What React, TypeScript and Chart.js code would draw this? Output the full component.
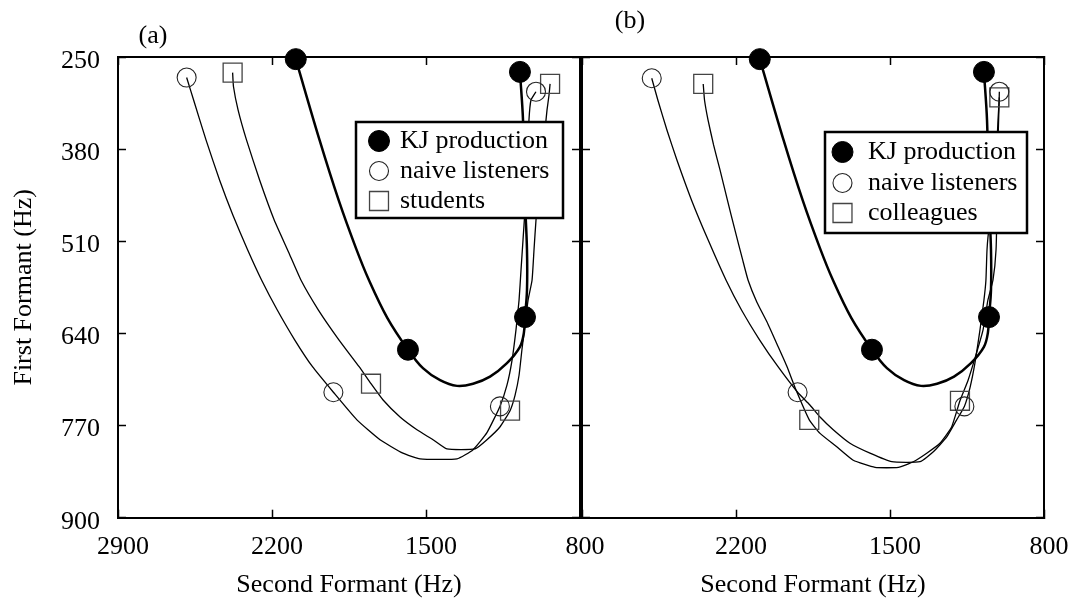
import React, { useEffect, useRef } from 'react';
import { Chart, registerables } from 'chart.js';

Chart.register(...registerables);

const FONT = '"Liberation Serif", "Times New Roman", Times, serif';

// Axis ticks and labels
const F2_TICKS = [800, 1500, 2200, 2900];
const F2_LABELS_A = ['800', '1500', '2200', '2900'];
const F2_LABELS_B = ['800', '1500', '2200', ''];
const F1_TICKS = [250, 380, 510, 640, 770, 900];
const F1_LABELS = ['250', '380', '510', '640', '770', '900'];

// KJ production (same in both panels)
const KJ_MARK_F2 = [2092, 1582, 1050, 1073];
const KJ_MARK_F1 = [253, 663, 617, 271];
const KJ_CURVE_F2 = [2092, 1984, 1897, 1818, 1759, 1676, 1582, 1514, 1436, 1359, 1286, 1209, 1132, 1073, 1055, 1050, 1041, 1041, 1050, 1059, 1073];
const KJ_CURVE_F1 = [253, 367, 452, 520, 565, 618, 663, 689, 706, 714, 711, 701, 682, 659, 639, 617, 579, 522, 452, 339, 271];

// Panel (a) naive listeners
const NAIVE_A_MARK_F2 = [2588, 1921, 1164, 1000];
const NAIVE_A_MARK_F1 = [279, 723, 743, 299];
const NAIVE_A_F2 = [2588, 2556, 2500, 2438, 2378, 2311, 2247, 2176, 2097, 2016, 1921, 1814, 1709, 1605, 1527, 1359, 1286, 1223, 1164, 1132, 1109, 1091, 1077, 1068, 1059, 1050, 1041, 1036, 1032, 1023, 1000];
const NAIVE_A_F1 = [279, 311, 367, 424, 473, 522, 565, 607, 649, 687, 723, 762, 790, 809, 817, 817, 804, 780, 743, 713, 678, 635, 593, 550, 508, 466, 424, 381, 339, 311, 299];

// Panel (a) students
const STUD_MARK_F2 = [2379, 1750, 1118, 936];
const STUD_MARK_F1 = [272, 711, 749, 288];
const STUD_F2 = [2379, 2375, 2354, 2316, 2256, 2190, 2125, 2068, 1989, 1896, 1804, 1750, 1695, 1618, 1541, 1468, 1405, 1277, 1223, 1164, 1118, 1095, 1077, 1064, 1050, 1036, 1018, 1009, 1000, 986, 973, 959, 950, 941, 936];
const STUD_F1 = [272, 292, 325, 367, 424, 480, 525, 565, 607, 649, 687, 711, 734, 758, 776, 790, 803, 803, 790, 772, 749, 727, 699, 663, 628, 593, 565, 522, 480, 438, 395, 353, 325, 304, 288];

// Panel (b) naive listeners
const NAIVE_B_MARK_F2 = [2583, 1920, 1162, 1003];
const NAIVE_B_MARK_F1 = [280, 723, 743, 299];
const NAIVE_B_F2 = [2583, 2555, 2514, 2469, 2402, 2327, 2245, 2175, 2093, 2009, 1920, 1864, 1818, 1758, 1682, 1591, 1492, 1364, 1303, 1242, 1197, 1162, 1136, 1114, 1091, 1073, 1064, 1059, 1050, 1023, 1014, 1009, 1005, 1003];
const NAIVE_B_F1 = [280, 311, 353, 395, 452, 508, 565, 607, 649, 687, 723, 741, 758, 776, 795, 809, 821, 821, 807, 786, 762, 743, 716, 682, 635, 593, 565, 522, 494, 473, 424, 367, 325, 299];

// Panel (b) colleagues
const COLL_MARK_F2 = [2349, 1867, 1182, 1003];
const COLL_MARK_F1 = [288, 762, 735, 307];
const COLL_F2 = [2349, 2343, 2327, 2302, 2273, 2239, 2205, 2170, 2145, 2105, 2059, 2014, 1968, 1927, 1867, 1818, 1742, 1667, 1568, 1462, 1394, 1333, 1273, 1220, 1182, 1145, 1109, 1077, 1055, 1032, 1018, 1014, 1014, 1009, 1003];
const COLL_F1 = [288, 311, 339, 374, 409, 452, 494, 536, 565, 596, 624, 655, 687, 720, 762, 781, 800, 819, 829, 829, 821, 809, 795, 772, 735, 706, 670, 635, 593, 565, 522, 452, 381, 339, 307];

const zip = (xs: number[], ys: number[]) => xs.map((x, i) => ({ x, y: ys[i] }));

const TRANSPARENT = 'rgba(0,0,0,0)';

const decorPlugin = {
  id: 'decor',
  afterDraw(chart: any, _args: any, opts: any) {
    const ctx = chart.ctx;
    ctx.save();
    if (opts.panelLabel) {
      ctx.font = `26px ${FONT}`;
      ctx.fillStyle = '#000';
      ctx.textAlign = 'center';
      ctx.textBaseline = 'middle';
      ctx.fillText(opts.panelLabel, opts.panelLabelX, opts.panelLabelY);
    }
    const lg = opts.legend;
    if (lg) {
      ctx.fillStyle = '#fff';
      ctx.fillRect(lg.left, lg.top, lg.width, lg.height);
      ctx.lineWidth = 2.5;
      ctx.strokeStyle = '#000';
      ctx.strokeRect(lg.left, lg.top, lg.width, lg.height);
      const items = chart.data.datasets.filter((d: any) => d.legendMarker);
      items.forEach((d: any, i: number) => {
        const y = lg.rows[i];
        const r = d.pointRadius;
        ctx.beginPath();
        if (d.pointStyle === 'rect') {
          const s = r * Math.SQRT1_2;
          ctx.rect(lg.symbolX - s, y - s, 2 * s, 2 * s);
        } else {
          ctx.arc(lg.symbolX, y, r, 0, Math.PI * 2);
        }
        if (d.backgroundColor !== TRANSPARENT) {
          ctx.fillStyle = d.backgroundColor;
          ctx.fill();
        }
        ctx.lineWidth = d.borderWidth;
        ctx.strokeStyle = d.borderColor;
        ctx.stroke();
        ctx.fillStyle = '#000';
        ctx.font = `26px ${FONT}`;
        ctx.textAlign = 'left';
        ctx.textBaseline = 'middle';
        ctx.fillText(d.label, lg.textX, y);
      });
    }
    ctx.restore();
  },
};

function markerSet(label: string, xs: number[], ys: number[], style: string) {
  const base: any = {
    label,
    data: zip(xs, ys),
    showLine: false,
    clip: false,
    legendMarker: true,
  };
  if (style === 'filled') {
    return { ...base, pointStyle: 'circle', pointRadius: 10.5, backgroundColor: '#000', borderColor: '#000', borderWidth: 1 };
  }
  if (style === 'circle') {
    return { ...base, pointStyle: 'circle', pointRadius: 9.5, backgroundColor: TRANSPARENT, borderColor: '#222', borderWidth: 1.1 };
  }
  return { ...base, pointStyle: 'rect', pointRadius: 13.4, backgroundColor: TRANSPARENT, borderColor: '#444', borderWidth: 1.3 };
}

function lineSet(xs: number[], ys: number[], width: number, tension: number) {
  return {
    label: '',
    data: zip(xs, ys),
    showLine: true,
    pointRadius: 0,
    borderColor: '#000',
    backgroundColor: TRANSPARENT,
    borderWidth: width,
    tension,
    fill: false,
    clip: false,
  };
}

function makeConfig(panel: 'a' | 'b') {
  const isA = panel === 'a';
  const datasets = isA
    ? [
        markerSet('KJ production', KJ_MARK_F2, KJ_MARK_F1, 'filled'),
        markerSet('naive listeners', NAIVE_A_MARK_F2, NAIVE_A_MARK_F1, 'circle'),
        markerSet('students', STUD_MARK_F2, STUD_MARK_F1, 'square'),
        lineSet(KJ_CURVE_F2, KJ_CURVE_F1, 2.5, 0.35),
        lineSet(NAIVE_A_F2, NAIVE_A_F1, 1.3, 0.15),
        lineSet(STUD_F2, STUD_F1, 1.3, 0.15),
      ]
    : [
        markerSet('KJ production', KJ_MARK_F2, KJ_MARK_F1, 'filled'),
        markerSet('naive listeners', NAIVE_B_MARK_F2, NAIVE_B_MARK_F1, 'circle'),
        markerSet('colleagues', COLL_MARK_F2, COLL_MARK_F1, 'square'),
        lineSet(KJ_CURVE_F2, KJ_CURVE_F1, 2.5, 0.35),
        lineSet(NAIVE_B_F2, NAIVE_B_F1, 1.3, 0.15),
        lineSet(COLL_F2, COLL_F1, 1.3, 0.15),
      ];

  const xLabels = isA ? F2_LABELS_A : F2_LABELS_B;
  const grid = { drawOnChartArea: false, tickLength: -8, tickWidth: 1.5, color: '#000' };
  const border = { display: true, color: '#000', width: 2 };
  const font = { family: FONT, size: 26 };
  const xTicksBuild = (s: any) => { s.ticks = F2_TICKS.map((v) => ({ value: v })); };
  const yTicksBuild = (s: any) => { s.ticks = F1_TICKS.map((v) => ({ value: v })); };

  return {
    type: 'scatter',
    data: { datasets },
    options: {
      responsive: false,
      animation: false,
      devicePixelRatio: 1,
      events: [],
      layout: {
        padding: isA
          ? { left: 0, top: 57, right: 493, bottom: 0 }
          : { left: 582, top: 57, right: 29, bottom: 0 },
      },
      plugins: {
        legend: { display: false },
        tooltip: { enabled: false },
        decor: isA
          ? {
              panelLabel: '(a)', panelLabelX: 153, panelLabelY: 36,
              legend: { left: 356, top: 122, width: 207, height: 96, symbolX: 379, textX: 400, rows: [141, 171, 201] },
            }
          : {
              panelLabel: '(b)', panelLabelX: 630, panelLabelY: 21,
              legend: { left: 825, top: 132, width: 202, height: 101, symbolX: 842.5, textX: 868, rows: [152, 183, 213] },
            },
      },
      scales: {
        x: {
          type: 'linear', position: 'bottom', reverse: true, min: 800, max: 2900,
          afterBuildTicks: xTicksBuild,
          ticks: {
            autoSkip: false, maxRotation: 0, padding: 22, labelOffset: 5, color: '#000', font,
            callback: (v: number) => xLabels[F2_TICKS.indexOf(v)] ?? '',
          },
          grid, border,
          title: { display: true, text: 'Second Formant (Hz)', color: '#000', font, padding: { top: 0, bottom: 1 } },
          afterFit: (s: any) => { s.height = 84.3; },
        },
        xTop: {
          type: 'linear', position: 'top', reverse: true, min: 800, max: 2900,
          afterBuildTicks: xTicksBuild,
          ticks: { display: false },
          grid, border,
          afterFit: (s: any) => { s.height = 0; },
        },
        y: {
          type: 'linear', position: 'left', reverse: true, min: 250, max: 900,
          afterBuildTicks: yTicksBuild,
          ticks: {
            display: isA, autoSkip: false, padding: 26, labelOffset: 4, color: '#000', font,
            callback: (v: number) => F1_LABELS[F1_TICKS.indexOf(v)] ?? '',
          },
          grid, border,
          title: isA
            ? { display: true, text: 'First Formant (Hz)', color: '#000', font, padding: { top: 9, bottom: 0 } }
            : { display: false },
          afterFit: (s: any) => { s.width = isA ? 118 : 0; },
        },
        yRight: {
          type: 'linear', position: 'right', reverse: true, min: 250, max: 900,
          afterBuildTicks: yTicksBuild,
          ticks: { display: false },
          grid, border,
          afterFit: (s: any) => { s.width = 0; },
        },
      },
    },
    plugins: [decorPlugin],
  };
}

export default function App() {
  const refA = useRef<HTMLCanvasElement>(null);
  const refB = useRef<HTMLCanvasElement>(null);

  useEffect(() => {
    Chart.defaults.font.family = FONT;
    Chart.defaults.color = '#000';
    const a = new Chart(refA.current as HTMLCanvasElement, makeConfig('a') as any);
    const b = new Chart(refB.current as HTMLCanvasElement, makeConfig('b') as any);
    return () => {
      a.destroy();
      b.destroy();
    };
  }, []);

  const canvasStyle: React.CSSProperties = { position: 'absolute', left: 0, top: 0, width: 1073, height: 602 };
  return (
    <div style={{ position: 'absolute', left: 0, top: 0, width: 1073, height: 602, background: '#fff' }}>
      <canvas ref={refA} width={1073} height={602} style={canvasStyle} />
      <canvas ref={refB} width={1073} height={602} style={canvasStyle} />
    </div>
  );
}
